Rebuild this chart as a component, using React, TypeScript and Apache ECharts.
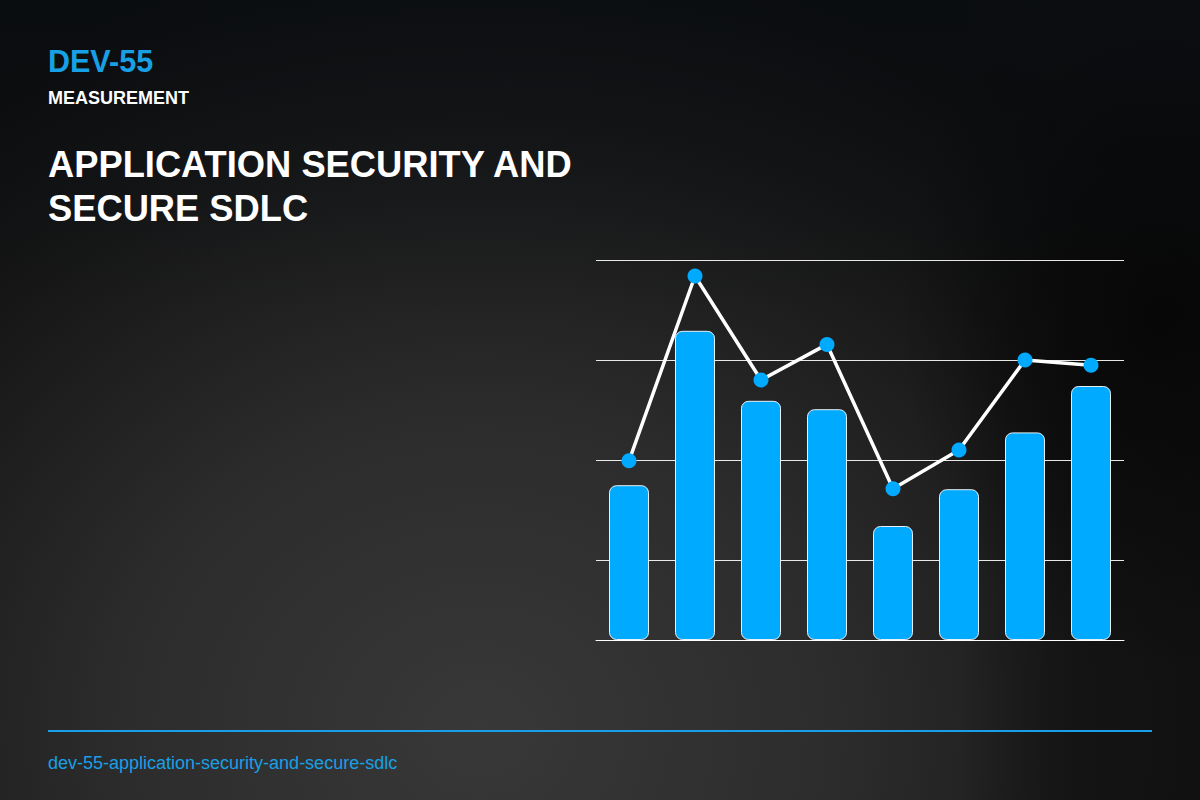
import React, { useEffect, useRef } from "react";
import * as echarts from "echarts";

const categories = ["P1", "P2", "P3", "P4", "P5", "P6", "P7", "P8"];
const barValues = [38.7, 77.3, 59.8, 57.7, 28.5, 37.7, 51.9, 63.5];
const lineValues = [44.8, 91.0, 65.0, 73.9, 37.8, 47.5, 70.0, 68.7];
const gridLineValues = [20, 45, 70, 95];
const yMax = 95;

const BLUE = "#00aaff";
const ACCENT = "#18a0e6";

export default function App() {
  const ref = useRef<HTMLDivElement>(null);

  useEffect(() => {
    document.body.style.margin = "0";
    if (!ref.current) return;
    const chart = echarts.init(ref.current, undefined, { renderer: "svg" });
    const font = "Liberation Sans, Arial, Helvetica, sans-serif";
    chart.setOption({
      animation: false,
      backgroundColor: "transparent",
      grid: { left: 596, width: 528, top: 260, bottom: 160, containLabel: false },
      xAxis: {
        type: "category",
        data: categories,
        axisLine: { show: true, lineStyle: { color: "#ffffff", width: 1 } },
        axisTick: { show: false },
        axisLabel: { show: false },
        splitLine: { show: false },
      },
      yAxis: {
        type: "value",
        min: 0,
        max: yMax,
        axisLine: { show: false },
        axisTick: { show: false },
        axisLabel: { show: false },
        splitLine: { show: false },
      },
      series: [
        {
          type: "bar",
          data: barValues,
          barWidth: 40,
          itemStyle: {
            color: BLUE,
            borderColor: "rgba(255,255,255,0.9)",
            borderWidth: 1,
            borderRadius: 7,
          },
          z: 2,
          markLine: {
            silent: true,
            symbol: "none",
            label: { show: false },
            lineStyle: { color: "rgba(255,255,255,0.9)", width: 1, type: "solid" },
            data: gridLineValues.map((v) => ({ yAxis: v })),
            z: 1,
          },
        },
        {
          type: "line",
          data: lineValues,
          symbol: "circle",
          symbolSize: 15,
          lineStyle: { color: "#ffffff", width: 3.5 },
          itemStyle: { color: BLUE },
          z: 5,
        },
      ],
      graphic: [
        {
          type: "text",
          style: { text: "DEV-55", x: 48, y: 60.5, font: `bold 30.5px ${font}`, fill: ACCENT, verticalAlign: "middle" },
        },
        {
          type: "text",
          style: { text: "MEASUREMENT", x: 48, y: 97.5, font: `bold 18px ${font}`, fill: "#ffffff", verticalAlign: "middle" },
        },
        {
          type: "text",
          style: { text: "APPLICATION SECURITY AND", x: 48, y: 164, font: `bold 36.3px ${font}`, fill: "#ffffff", verticalAlign: "middle" },
        },
        {
          type: "text",
          style: { text: "SECURE SDLC", x: 48, y: 208, font: `bold 36.3px ${font}`, fill: "#ffffff", verticalAlign: "middle" },
        },
        {
          type: "line",
          shape: { x1: 48, y1: 731, x2: 1152, y2: 731 },
          style: { stroke: ACCENT, lineWidth: 2 },
        },
        {
          type: "text",
          style: {
            text: "dev-55-application-security-and-secure-sdlc",
            x: 48,
            y: 763,
            font: `18px ${font}`,
            fill: ACCENT,
            verticalAlign: "middle",
          },
        },
      ],
    });
    return () => chart.dispose();
  }, []);

  return (
    <div
      style={{
        position: "absolute",
        left: 0,
        top: 0,
        width: 1200,
        height: 800,
        background:
          "linear-gradient(to bottom, rgba(8,16,26,0.3) 0px, rgba(8,16,26,0) 320px)," +
          "radial-gradient(ellipse 260px 360px at 1160px 310px, rgba(6,6,6,0.85) 0%, rgba(6,6,6,0) 100%)," +
          "linear-gradient(to right, rgba(12,12,12,0) 0px, rgba(12,12,12,0) 960px, rgba(14,14,14,0.55) 1070px, rgba(14,14,14,0.55) 1200px)," +
          "radial-gradient(ellipse 900px 780px at 480px 730px, #383838 0%, #2c2c2c 40%, #151515 78%, #0b0b0b 100%)",
      }}
    >
      <div ref={ref} style={{ width: 1200, height: 800 }} />
    </div>
  );
}
